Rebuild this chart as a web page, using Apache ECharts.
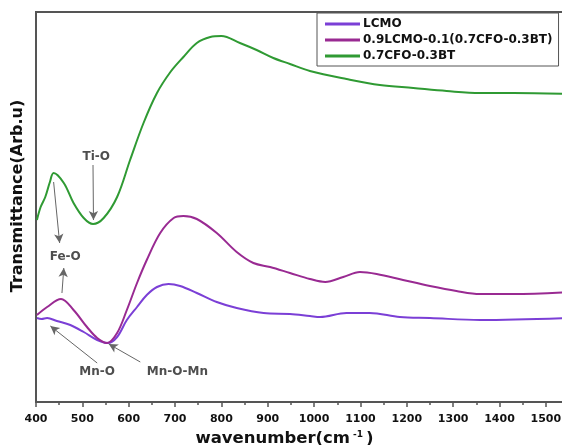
<!DOCTYPE html>
<html>
<head>
<meta charset="utf-8">
<script src="https://cdn.jsdelivr.net/npm/echarts@6/dist/echarts.min.js"></script>
<style>
  html, body { margin: 0; padding: 0; background: #fff; }
  #chart { width: 562px; height: 445px; }
</style>
</head>
<body>
<div id="chart"></div>
<script>
// FTIR spectra: wavenumber (cm^-1) vs. transmittance (arbitrary units, offset traces)
const cfoBtWn  = [402, 410, 420, 430, 438, 460, 481, 503, 523, 546, 575, 603, 632, 661, 690, 718, 747, 776, 800, 840, 876, 912, 948, 991, 1070, 1142, 1214, 1286, 1358, 1430, 1550];
const cfoBtVal = [182, 195, 205, 220, 229, 219, 199, 184, 178, 184, 205, 242, 279, 309, 330, 345, 359, 365, 366, 359, 352, 344, 338, 331, 323, 317, 314, 311, 309, 309, 308];

const compWn  = [402, 424, 454, 481, 510, 532, 553, 575, 596, 618, 639, 668, 697, 718, 747, 790, 833, 869, 905, 948, 991, 1024, 1063, 1099, 1135, 1192, 1250, 1307, 1358, 1430, 1550];
const compVal = [87, 95, 103, 92, 75, 64, 59, 69, 92, 119, 142, 169, 184, 186, 183, 169, 150, 139, 135, 129, 123, 120, 125, 130, 128, 122, 116, 111, 108, 108, 110];

const lcmoWn  = [402, 412, 424, 445, 474, 503, 532, 555, 575, 596, 618, 639, 661, 686, 711, 747, 790, 833, 891, 948, 991, 1013, 1070, 1120, 1185, 1250, 1358, 1550];
const lcmoVal = [84, 83, 84, 81, 77, 70, 62, 59, 65, 82, 95, 107, 115, 118, 116, 109, 100, 94, 89, 88, 86, 85, 89, 89, 85, 84, 82, 84];

const seriesNames = ['LCMO', '0.9LCMO-0.1(0.7CFO-0.3BT)', '0.7CFO-0.3BT'];
const xTicks = [400, 500, 600, 700, 800, 900, 1000, 1100, 1200, 1300, 1400, 1500];

// band assignments: label position [wn, value, text]
const bandLabels = [
  [530, 245, 'Ti-O'],
  [463, 145, 'Fe-O'],
  [532, 30, 'Mn-O'],
  [705, 30, 'Mn-O-Mn']
];
// arrows: [fromWn, fromVal, toWn, toVal]
const bandArrows = [
  [523, 237, 524, 182],
  [438, 220, 451, 159],
  [456, 109, 460, 134],
  [532, 39, 431, 76],
  [625, 40, 557, 58]
];

const zip = (xs, ys) => xs.map((x, i) => [x, ys[i]]);
const font = 'DejaVu Sans';

const chart = echarts.init(document.getElementById('chart'), null, { renderer: 'canvas' });

const lineSeries = (name, data, color) => ({
  name, type: 'line', data, smooth: 0.35, showSymbol: false, symbol: 'none',
  lineStyle: { color, width: 2 }, itemStyle: { color }, animation: false, silent: true
});

chart.setOption({
  backgroundColor: '#fff',
  animation: false,
  grid: {
    left: 36, top: 12, right: -7, bottom: 43,
    outerBoundsMode: 'none',
    containLabel: false,
    show: true, borderColor: '#555', borderWidth: 2, backgroundColor: 'transparent'
  },
  legend: {
    data: seriesNames,
    orient: 'vertical',
    left: 317, top: 13,
    padding: [5, 6, 4, 8],
    itemGap: 4,
    itemWidth: 35, itemHeight: 3,
    icon: 'rect',
    borderColor: '#555', borderWidth: 1,
    backgroundColor: '#fff',
    textStyle: { fontFamily: font, fontWeight: 'bold', fontSize: 12, color: '#111', padding: [0, 0, 0, -2] }
  },
  xAxis: {
    type: 'value', min: 400, max: 1550, interval: 100,
    name: '{a|wavenumber(cm}{s|-1}{a|)}',
    nameLocation: 'middle', nameGap: 24,
    nameTextStyle: {
      padding: [0, 36, 0, 0],
      rich: {
        a: { fontFamily: font, fontWeight: 'bold', fontSize: 16.5, color: '#111' },
        s: { fontFamily: font, fontWeight: 'bold', fontSize: 9, color: '#111', verticalAlign: 'top', padding: [0, 3, 9, 3] }
      }
    },
    axisLine: { show: true, lineStyle: { color: '#555', width: 2 } },
    axisTick: { show: true, inside: false, length: 5, lineStyle: { color: '#555', width: 1.5 } },
    minorTick: { show: true, splitNumber: 2, length: 3, lineStyle: { color: '#555', width: 1.5 } },
    splitLine: { show: false },
    minorSplitLine: { show: false },
    axisLabel: {
      margin: 12, fontFamily: font, fontWeight: 'bold', fontSize: 11, color: '#111',
      formatter: v => (xTicks.includes(v) ? String(v) : '')
    }
  },
  yAxis: {
    type: 'value', min: 0, max: 390,
    name: 'Transmittance(Arb.u)',
    nameLocation: 'middle', nameGap: 10, nameRotate: 90,
    nameTextStyle: { fontFamily: font, fontWeight: 'bold', fontSize: 16, color: '#111', padding: [0, 0, 0, 22] },
    axisLine: { show: true, lineStyle: { color: '#555', width: 2 } },
    axisTick: { show: false },
    axisLabel: { show: false },
    splitLine: { show: false }
  },
  series: [
    lineSeries(seriesNames[0], zip(lcmoWn, lcmoVal), '#7b3fd6'),
    lineSeries(seriesNames[1], zip(compWn, compVal), '#992a92'),
    Object.assign(lineSeries(seriesNames[2], zip(cfoBtWn, cfoBtVal), '#2f9a33'), {
      markLine: {
        silent: true, animation: false,
        symbol: ['none', 'arrow'], symbolSize: [7, 9],
        label: { show: false },
        lineStyle: { color: '#666', width: 1, type: 'solid' },
        emphasis: { disabled: true },
        data: bandArrows.map(a => [{ coord: [a[0], a[1]] }, { coord: [a[2], a[3]] }])
      }
    }),
    {
      name: 'bands', type: 'scatter', symbolSize: 0, silent: true, animation: false,
      data: bandLabels,
      label: {
        show: true, position: 'inside',
        formatter: p => p.value[2],
        fontFamily: font, fontWeight: 'bold', fontSize: 12, color: '#222'
      }
    }
  ]
});
</script>
</body>
</html>
